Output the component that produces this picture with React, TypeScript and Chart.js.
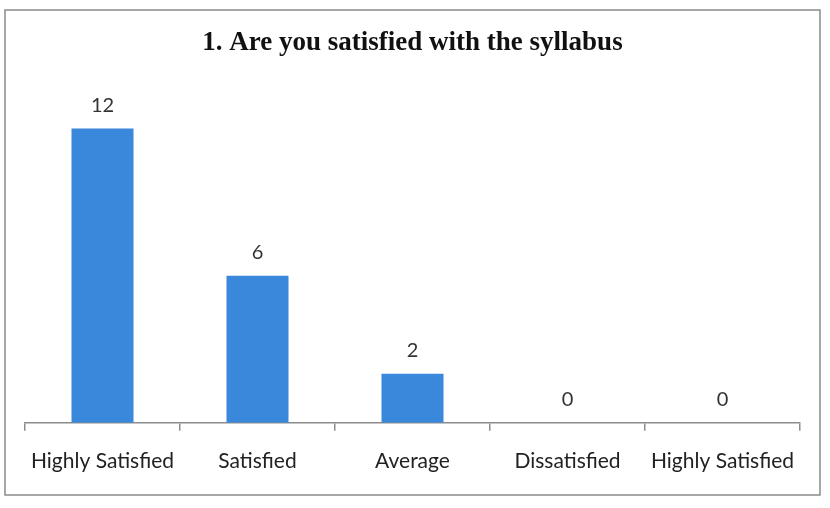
import React, { useEffect, useRef } from "react";
import { Chart, registerables } from "chart.js";

Chart.register(...registerables);

const title = "1. Are you satisfied with the syllabus";
const categories = ["Highly Satisfied", "Satisfied", "Average", "Dissatisfied", "Highly Satisfied"];
const responses = [12, 6, 2, 0, 0];

const framePlugin = {
  id: "frame",
  beforeDraw(chart: any) {
    const ctx = chart.ctx;
    ctx.save();
    ctx.fillStyle = "#ffffff";
    ctx.fillRect(0, 0, chart.width, chart.height);
    ctx.strokeStyle = "#8a8a8a";
    ctx.lineWidth = 1.5;
    ctx.strokeRect(5, 10, 815, 485);
    ctx.restore();
  },
};

const labelPlugin = {
  id: "valueLabels",
  afterDatasetsDraw(chart: any) {
    const ctx = chart.ctx;
    const meta = chart.getDatasetMeta(0);
    ctx.save();
    ctx.font = "20px Lato";
    ctx.fillStyle = "#333333";
    ctx.textAlign = "center";
    ctx.textBaseline = "middle";
    meta.data.forEach((bar: any, i: number) => {
      ctx.fillText(String(chart.data.datasets[0].data[i]), bar.x, bar.y - 23);
    });
    ctx.restore();
  },
};

export default function App() {
  const ref = useRef<HTMLCanvasElement>(null);
  useEffect(() => {
    const chart = new Chart(ref.current!, {
      type: "bar",
      data: {
        labels: categories,
        datasets: [
          {
            data: responses,
            backgroundColor: "#3A88DC",
            barPercentage: 0.4,
            categoryPercentage: 1,
          },
        ],
      },
      options: {
        animation: false,
        responsive: false,
        layout: { padding: { left: 25, right: 30, top: 10, bottom: 16 } },
        plugins: {
          legend: { display: false },
          tooltip: { enabled: false },
          title: {
            display: true,
            text: title,
            color: "#111111",
            font: { family: "Liberation Serif", size: 27, weight: "bold" },
            padding: { top: 17, bottom: 20 },
          },
        },
        scales: {
          y: { display: false, min: 0, max: 14 },
          x: {
            border: { display: true, color: "#8c8c8c", width: 1.5 },
            grid: {
              display: true,
              offset: true,
              drawOnChartArea: false,
              drawTicks: true,
              tickLength: 8,
              color: "#8c8c8c",
              lineWidth: 1.5,
            },
            ticks: {
              color: "#222222",
              font: { family: "Lato", size: 21 },
              padding: 18,
              maxRotation: 0,
              autoSkip: false,
            },
          },
        },
      },
      plugins: [framePlugin, labelPlugin],
    });
    return () => chart.destroy();
  }, []);
  return (
    <div style={{ position: "absolute", left: 0, top: 0, width: 830, height: 508 }}>
      <canvas ref={ref} width={830} height={508} />
    </div>
  );
}
